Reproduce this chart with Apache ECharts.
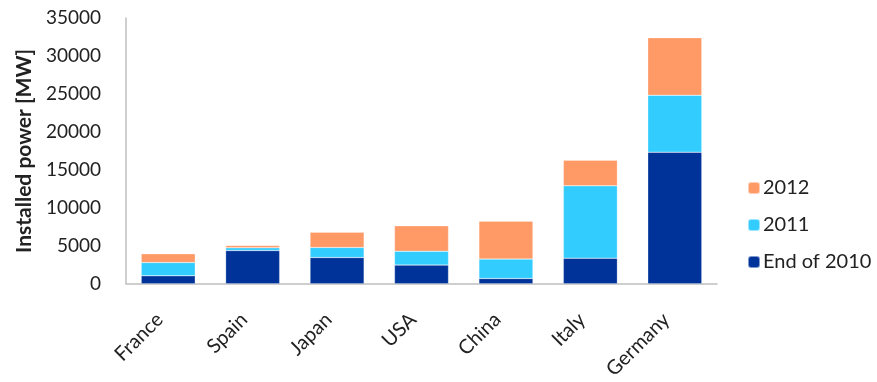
<!DOCTYPE html>
<html><head><meta charset="utf-8">
<script src="https://cdn.jsdelivr.net/npm/echarts@6/dist/echarts.min.js"></script>
<style>html,body{margin:0;padding:0;background:#fff}#c{width:877px;height:382px}</style>
</head><body><div id="c"></div>
<script>
var categories = ['France','Spain','Japan','USA','China','Italy','Germany'];
var end2010 = [1050, 4380, 3460, 2460, 700, 3380, 17330];
var add2011 = [1750, 360, 1320, 1840, 2550, 9520, 7500];
var add2012 = [1150, 300, 2020, 3330, 5000, 3380, 7570];
var yTicks = [0, 5000, 10000, 15000, 20000, 25000, 30000, 35000];
var FONT = 'Lato, "Open Sans", sans-serif';
var chart = echarts.init(document.getElementById('c'));
function s(name, data, color){
  return {name:name, type:'bar', stack:'a', data:data, barWidth:'64%',
    itemStyle:{color:color, borderColor:'rgba(255,255,255,0.5)', borderWidth:0.5}};
}
chart.setOption({
  animation:false,
  textStyle:{fontFamily:FONT},
  grid:{left:126, right:160, top:18, bottom:98},
  legend:{orient:'vertical', left:742, top:173, itemWidth:12, itemHeight:12, itemGap:17,
    data:['2012','2011','End of 2010'],
    textStyle:{fontFamily:FONT, fontSize:20, color:'#222', padding:[0,0,0,-2]}},
  xAxis:{type:'category', data:categories,
    axisLine:{lineStyle:{color:'#bfbfbf', width:1.5}}, axisTick:{show:false},
    axisLabel:{rotate:45, fontSize:20, color:'#222', margin:24, padding:[0,12,0,0], fontFamily:FONT}},
  yAxis:{type:'value', min:yTicks[0], max:yTicks[yTicks.length-1], interval:5000,
    name:'Installed power [MW]', nameLocation:'middle', nameGap:90, nameRotate:90,
    nameTextStyle:{fontSize:21, fontWeight:'bold', color:'#222', fontFamily:FONT},
    axisLine:{show:true, lineStyle:{color:'#bfbfbf', width:1.5}}, axisTick:{show:false},
    splitLine:{show:false},
    axisLabel:{fontSize:19, color:'#222', margin:25, fontFamily:FONT, formatter:function(v){return String(v);}}},
  series:[s('End of 2010', end2010, '#003399'), s('2011', add2011, '#33CCFF'), s('2012', add2012, '#FF9966')]
});
</script></body></html>
